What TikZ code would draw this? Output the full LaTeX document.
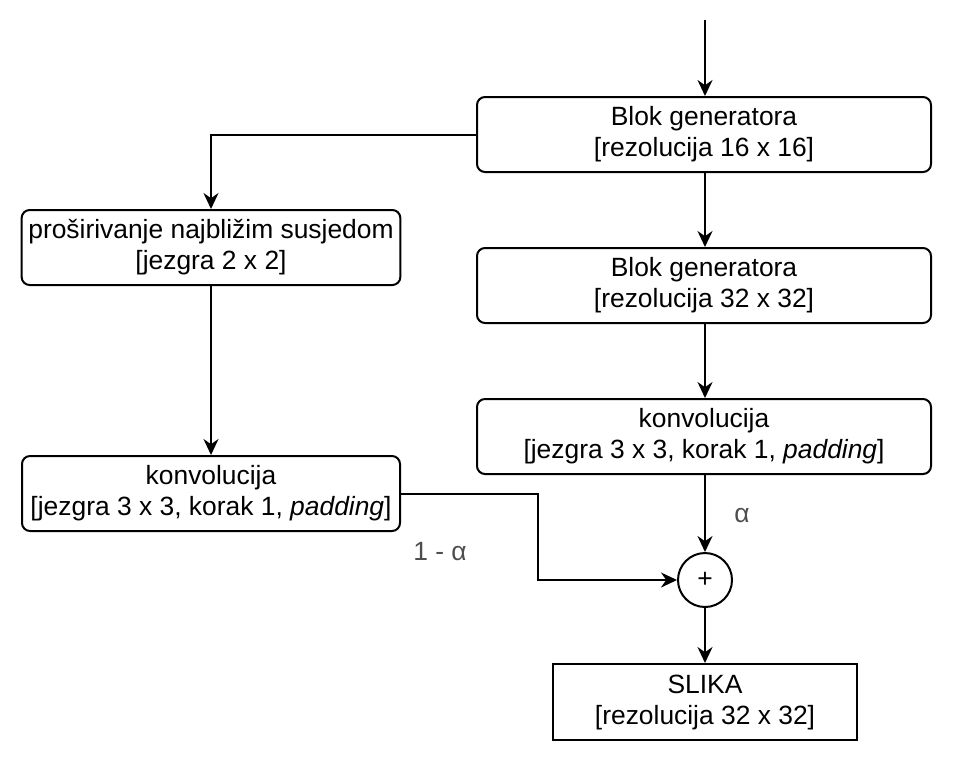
\documentclass[tikz,border=0pt]{standalone}
\usepackage{fontspec}
\setmainfont{Liberation Sans}
\usetikzlibrary{positioning,calc,arrows.meta}
\definecolor{lblgrey}{HTML}{4D4D4D}
\tikzset{
    blok/.style={draw, line width=1pt, rounded corners=4pt, minimum width=227pt, minimum height=37.5pt, align=center, font=\fontsize{13.2}{15.5}\selectfont},
    izlaz/.style={draw, line width=1pt, minimum width=152pt, minimum height=38pt, align=center, font=\fontsize{13.2}{15.5}\selectfont},
    zbroj/.style={draw, line width=1pt, circle, minimum size=27pt, inner sep=0pt, font=\fontsize{13.2}{15.5}\selectfont},
    tok/.style={line width=1pt, -{Stealth[length=8pt, width=7.5pt]}},
    oznaka/.style={text=lblgrey, font=\fontsize{13.2}{15.5}\selectfont}
}
\begin{document}
\begin{tikzpicture}[x=0.5pt, y=-0.5pt]
    \useasboundingbox (0,0) rectangle (972,757);
    \coordinate (ulaz) at (705,20);
    \node[blok] (gen16) at (704,134.5) {Blok generatora\\ {[}rezolucija 16 x 16]};
    \node[blok] (gen32) at (704,285.5) {Blok generatora\\ {[}rezolucija 32 x 32]};
    \node[blok] (konvD) at (704,436.5) {konvolucija\\ {[}jezgra 3 x 3, korak 1, \textit{padding}]};
    \node[blok, minimum width=189pt] (prosir) at (211,247.5) {pro\v{s}irivanje najbli\v{z}im susjedom\\ {[}jezgra 2 x 2]};
    \node[blok, minimum width=189pt] (konvL) at (211,493.5) {konvolucija\\ {[}jezgra 3 x 3, korak 1, \textit{padding}]};
    \node[zbroj] (plus) at (705,580) {+};
    \node[izlaz] (slika) at (705,702) {SLIKA\\ {[}rezolucija 32 x 32]};
    % veze
    \coordinate (lom) at (538,493.5);
    \draw[tok] (ulaz) -- (gen16.north -| ulaz);
    \draw[tok] (gen16.west) -| (prosir.north);
    \draw[tok] (gen16.south -| ulaz) -- (gen32.north -| ulaz);
    \draw[tok] (gen32.south -| ulaz) -- (konvD.north -| ulaz);
    \draw[tok] (prosir) -- (konvL);
    \draw[tok] (konvD.south -| ulaz) -- (plus);
    \draw[tok] (konvL.east) -- (lom) |- (plus.west);
    \draw[tok] (plus) -- (slika);
    \node[oznaka] (alfa) at (742,516) {α};
    \node[oznaka] (jedan) at (440,552) {1 - α};
\end{tikzpicture}
\end{document}
